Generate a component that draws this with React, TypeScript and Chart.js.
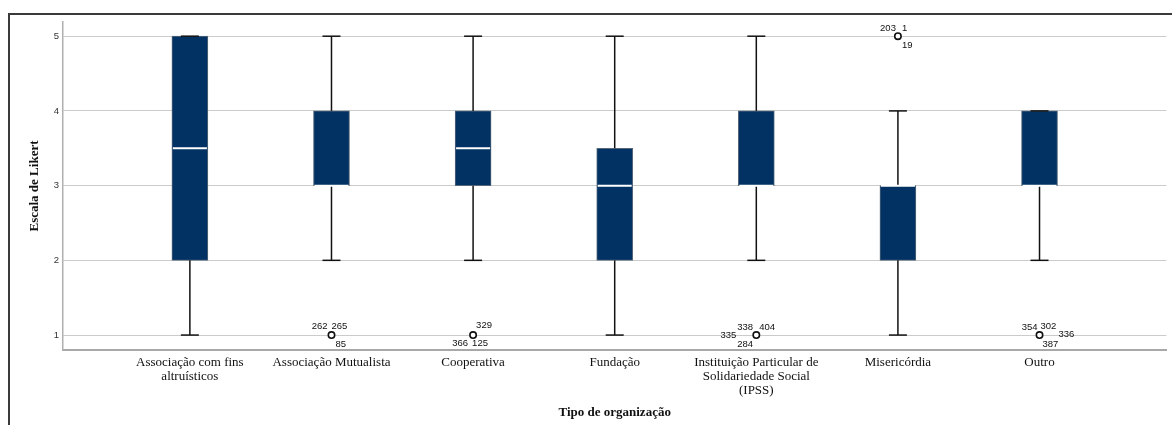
import React, { useEffect, useRef } from 'react';
import { Chart, registerables } from 'chart.js';

Chart.register(...registerables);

// ---- Data ----
const categories: string[][] = [
  ['Associação com fins', 'altruísticos'],
  ['Associação Mutualista'],
  ['Cooperativa'],
  ['Fundação'],
  ['Instituição Particular de', 'Solidariedade Social', '(IPSS)'],
  ['Misericórdia'],
  ['Outro'],
];
const mins = [1, 2, 2, 1, 2, 1, 2];
const q1s = [2, 3, 3, 2, 3, 2, 3];
const medians = [3.5, 3, 3.5, 3, 3, 3, 3];
const q3s = [5, 4, 4, 3.5, 4, 3, 4];
const maxs = [5, 5, 5, 5, 5, 4, 4];

const outlierCats = [2, 3, 5, 6, 7];
const outlierValues = [1, 1, 1, 5, 1];
const outlierIds: string[][] = [
  ['262', '265', '85'],
  ['329', '366', '125'],
  ['335', '338', '404', '284'],
  ['203', '1', '19'],
  ['354', '302', '336', '387'],
];

const yTicks = [1, 2, 3, 4, 5];

// ---- Layout (label placement offsets, px) ----
// [dx, dy, align]
const outlierLabelPlacement: [number, number, CanvasTextAlign][][] = [
  [[-4, -9, 'right'], [0, -9, 'left'], [4, 9, 'left']],
  [[3, -10, 'left'], [-5, 8, 'right'], [-1, 8, 'left']],
  [[-20, 0, 'right'], [-19, -8, 'left'], [3, -8, 'left'], [-19, 9, 'left']],
  [[-2, -8, 'right'], [4, -8, 'left'], [4, 9, 'left']],
  [[-2, -8, 'right'], [1, -9, 'left'], [19, -1, 'left'], [3, 9, 'left']],
];

const SERIF = '"Liberation Serif", "Times New Roman", serif';
const SANS = '"Liberation Sans", Arial, sans-serif';

const boxExtras = {
  id: 'boxExtras',
  afterDatasetsDraw(chart: any) {
    const ctx = chart.ctx;
    const y = chart.scales.y;
    const meta = chart.getDatasetMeta(0);
    ctx.save();
    categories.forEach((_, i) => {
      const bar = meta.data[i];
      if (!bar) return;
      const cx = bar.x;
      const w = bar.width;
      const capHalf = w / 4;
      ctx.strokeStyle = '#111';
      ctx.lineWidth = 1.5;
      if (maxs[i] > q3s[i]) {
        ctx.beginPath();
        ctx.moveTo(cx, y.getPixelForValue(q3s[i]));
        ctx.lineTo(cx, y.getPixelForValue(maxs[i]));
        ctx.stroke();
      }
      if (mins[i] < q1s[i]) {
        ctx.beginPath();
        ctx.moveTo(cx, y.getPixelForValue(q1s[i]));
        ctx.lineTo(cx, y.getPixelForValue(mins[i]));
        ctx.stroke();
      }
      [maxs[i], mins[i]].forEach((v) => {
        const py = y.getPixelForValue(v);
        ctx.beginPath();
        ctx.moveTo(cx - capHalf, py);
        ctx.lineTo(cx + capHalf, py);
        ctx.stroke();
      });
      ctx.strokeStyle = '#ffffff';
      ctx.lineWidth = 2;
      const my = y.getPixelForValue(medians[i]);
      ctx.beginPath();
      ctx.moveTo(cx - w / 2 + 1, my);
      ctx.lineTo(cx + w / 2 - 1, my);
      ctx.stroke();
    });

    const x = chart.scales.x;
    ctx.fillStyle = '#111';
    ctx.font = `9.5px ${SANS}`;
    ctx.textBaseline = 'middle';
    outlierCats.forEach((c, k) => {
      const px = x.getPixelForValue(c);
      const py = y.getPixelForValue(outlierValues[k]);
      outlierIds[k].forEach((id, j) => {
        const [dx, dy, align] = outlierLabelPlacement[k][j];
        ctx.textAlign = align;
        ctx.fillText(id, px + dx, py + dy);
      });
    });
    ctx.restore();
  },
};

export default function App() {
  const ref = useRef<HTMLCanvasElement>(null);

  useEffect(() => {
    if (!ref.current) return;
    const chart = new Chart(ref.current, {
      type: 'bar',
      data: {
        datasets: [
          {
            type: 'bar',
            data: categories.map((_, i) => ({ x: i + 1, y: [q1s[i], q3s[i]] })) as any,
            backgroundColor: '#013263',
            borderColor: '#56677a',
            borderWidth: 1,
            borderSkipped: false,
            barThickness: 36,
            grouped: false,
          } as any,
          {
            type: 'scatter',
            data: outlierCats.map((c, k) => ({ x: c, y: outlierValues[k] })),
            pointRadius: 3.2,
            pointBackgroundColor: '#ffffff',
            pointBorderColor: '#111111',
            pointBorderWidth: 1.6,
          } as any,
        ],
      },
      options: {
        responsive: false,
        animation: false,
        devicePixelRatio: 1,
        layout: { padding: { top: 22, right: 4, left: 0, bottom: 0 } },
        plugins: { legend: { display: false }, tooltip: { enabled: false } },
        scales: {
          x: {
            type: 'linear',
            offset: false,
            min: 0.104,
            max: 7.896,
            afterBuildTicks: (s: any) => {
              s.ticks = categories.map((_, i) => ({ value: i + 1 }));
            },
            afterFit: (s: any) => {
              s.height = 75;
            },
            ticks: {
              autoSkip: false,
              maxRotation: 0,
              minRotation: 0,
              padding: 6,
              color: '#111',
              font: { family: SERIF, size: 13, lineHeight: 1.05 },
              callback: (v: any) => categories[Number(v) - 1] ?? '',
            },
            grid: { display: false, drawTicks: false, offset: false },
            border: { display: true, color: '#a8a8a8', width: 2 },
            title: {
              display: true,
              text: 'Tipo de organização',
              color: '#111',
              font: { family: SERIF, size: 13, weight: 'bold' },
              padding: { top: 0, bottom: 5 },
            },
          },
          y: {
            type: 'linear',
            min: 0.8,
            max: 5.19,
            afterBuildTicks: (s: any) => {
              s.ticks = yTicks.map((v) => ({ value: v }));
            },
            afterFit: (s: any) => {
              s.width = 63;
            },
            ticks: {
              padding: 4,
              color: '#333',
              font: { family: SANS, size: 9.5 },
            },
            grid: { color: '#cbcbcb', lineWidth: 1, drawTicks: false },
            border: { color: '#b0b0b0', width: 1.5 },
            title: {
              display: true,
              text: 'Escala de Likert',
              color: '#111',
              font: { family: SERIF, size: 13, weight: 'bold' },
              padding: { top: 27, bottom: 0 },
            },
          },
        },
      } as any,
      plugins: [boxExtras],
    });
    return () => chart.destroy();
  }, []);

  return (
    <div style={{ position: 'absolute', left: 0, top: 0, width: 1172, height: 425, overflow: 'hidden', background: '#fff' }}>
      <div
        style={{
          position: 'absolute',
          left: 8,
          top: 13,
          right: 0,
          bottom: 0,
          borderTop: '2px solid #3a3a3a',
          borderLeft: '2px solid #3a3a3a',
        }}
      />
      <canvas ref={ref} width={1172} height={425} style={{ position: 'absolute', left: 0, top: 0, display: 'block' }} />
    </div>
  );
}
